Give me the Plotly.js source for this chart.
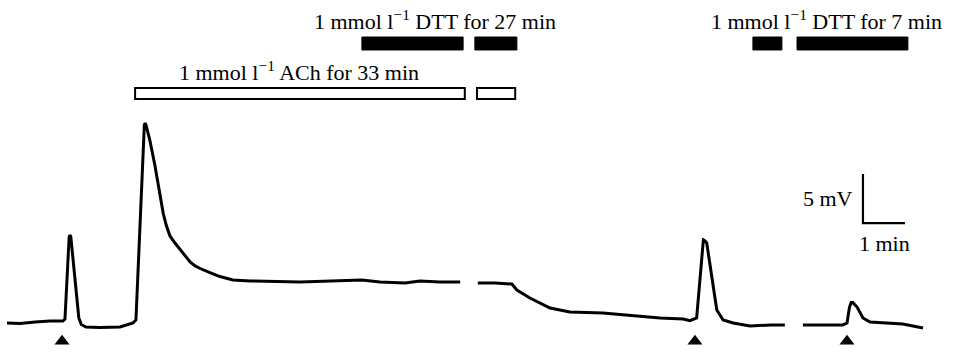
<!DOCTYPE html>
<html>
<head>
<meta charset="utf-8">
<script src="https://cdn.plot.ly/plotly-3.0.1.min.js"></script>
<style>html,body{margin:0;padding:0;background:#fff;}#chart{width:963px;height:352px;}</style>
</head>
<body>
<div id="chart"></div>
<script>
// Membrane potential recording (time in min, potential in mV relative to resting baseline)
// Segment 1: control stimulus, ACh application
const seg1Time = [0, 0.31, 0.67, 1.02, 1.33, 1.38, 1.48, 1.50, 1.52, 1.71, 1.77, 1.88, 2.21, 2.69, 3.00, 3.07, 3.27, 3.29, 3.31, 3.40, 3.52, 3.64, 3.72, 3.79, 3.88, 4.00, 4.12, 4.24, 4.36, 4.48, 4.60, 4.83, 5.07, 5.38, 5.79, 6.98, 7.69, 8.45, 8.88, 9.48, 9.83, 10.31, 10.79];
const seg1mV   = [0, -0.05, 0.10, 0.20, 0.20, 0.41, 8.78, 8.98, 8.78, 0.51, -0.15, -0.41, -0.46, -0.41, 0, 0.31, 20.20, 20.41, 20.20, 18.67, 16.12, 13.06, 11.19, 10.00, 8.88, 8.16, 7.55, 6.94, 6.22, 5.82, 5.56, 5.15, 4.74, 4.39, 4.29, 4.18, 4.29, 4.39, 4.18, 4.08, 4.29, 4.18, 4.18];
// Segment 2: DTT wash, second stimulus
const seg2Time = [11.21, 11.62, 12.02, 12.14, 12.45, 12.93, 13.40, 14.19, 15.00, 15.55, 16.10, 16.26, 16.42, 16.56, 16.58, 16.62, 16.66, 16.90, 17.05, 17.29, 17.69, 18.17, 18.52];
const seg2mV   = [4.08, 4.08, 3.98, 3.37, 2.55, 1.53, 1.12, 1.02, 0.71, 0.51, 0.41, 0.23, 0.51, 8.27, 8.47, 8.37, 8.17, 1.33, 0.31, 0, -0.31, -0.20, -0.20];
// Segment 3: after 7 min DTT, third stimulus
const seg3Time = [18.95, 19.90, 20.00, 20.06, 20.10, 20.14, 20.24, 20.38, 20.55, 21.02, 21.33, 21.81];
const seg3mV   = [-0.20, -0.20, 0, 1.63, 2.08, 2.08, 1.63, 0.51, 0.10, 0, -0.10, -0.51];

// Stimulus markers (arrowheads)
const stimTime = [1.31, 16.38, 20.00];
const stimLevel = -1.85;

// Treatment bars [start, end] in min
const achBars = [[3.05, 10.90], [11.19, 12.10]];
const dttBars = [[8.45, 10.86], [11.14, 12.14], [17.76, 18.45], [18.81, 21.45]];
const achBarY = [22.86, 23.98];
const dttBarY = [27.86, 29.18];

// Labels
const achLabel = "1 mmol l<sup>−1</sup> ACh for 33 min";
const dtt27Label = "1 mmol l<sup>−1</sup> DTT for 27 min";
const dtt7Label = "1 mmol l<sup>−1</sup> DTT for 7 min";

// Scale bar
const scaleOrigin = [20.38, 10.20];
const scaleMin = 1;   // min
const scaleMV = 5;    // mV

const traceTime = seg1Time.concat([null], seg2Time, [null], seg3Time);
const traceMV = seg1mV.concat([null], seg2mV, [null], seg3mV);

const font = {family: "Liberation Serif, Times New Roman, serif", size: 22, color: "#000"};

const data = [
  {x: traceTime, y: traceMV, mode: "lines", line: {color: "#000", width: 3, shape: "linear"}, connectgaps: false, hoverinfo: "skip"},
  {x: stimTime, y: stimTime.map(() => stimLevel), mode: "markers", marker: {symbol: "triangle-up", size: 13, color: "#000"}, hoverinfo: "skip"},
  {x: [scaleOrigin[0], scaleOrigin[0], scaleOrigin[0] + scaleMin],
   y: [scaleOrigin[1] + scaleMV, scaleOrigin[1], scaleOrigin[1]],
   mode: "lines", line: {color: "#000", width: 2.2}, hoverinfo: "skip"}
];

const shapes = [];
achBars.forEach(b => shapes.push({type: "rect", xref: "x", yref: "y", x0: b[0], x1: b[1], y0: achBarY[0], y1: achBarY[1], fillcolor: "#fff", line: {color: "#000", width: 2}}));
dttBars.forEach(b => shapes.push({type: "rect", xref: "x", yref: "y", x0: b[0], x1: b[1], y0: dttBarY[0], y1: dttBarY[1], fillcolor: "#000", line: {color: "#000", width: 1}}));

const annotations = [
  {x: 4.05, y: 25.7, xref: "x", yref: "y", text: achLabel, showarrow: false, xanchor: "left", yanchor: "middle", font: font},
  {x: 7.26, y: 30.9, xref: "x", yref: "y", text: dtt27Label, showarrow: false, xanchor: "left", yanchor: "middle", font: font},
  {x: 16.72, y: 30.9, xref: "x", yref: "y", text: dtt7Label, showarrow: false, xanchor: "left", yanchor: "middle", font: font},
  {x: 20.19, y: 12.7, xref: "x", yref: "y", text: "5 mV", showarrow: false, xanchor: "right", yanchor: "middle", font: font},
  {x: 20.90, y: 8.1, xref: "x", yref: "y", text: "1 min", showarrow: false, xanchor: "center", yanchor: "middle", font: font}
];

const layout = {
  width: 963, height: 352,
  margin: {l: 0, r: 0, t: 0, b: 0},
  paper_bgcolor: "#fff", plot_bgcolor: "#fff",
  showlegend: false,
  xaxis: {range: [-0.1667, 22.762], visible: false, fixedrange: true},
  yaxis: {range: [-2.959, 32.959], visible: false, fixedrange: true},
  shapes: shapes,
  annotations: annotations
};

Plotly.newPlot("chart", data, layout, {staticPlot: true, displayModeBar: false});
</script>
</body>
</html>
